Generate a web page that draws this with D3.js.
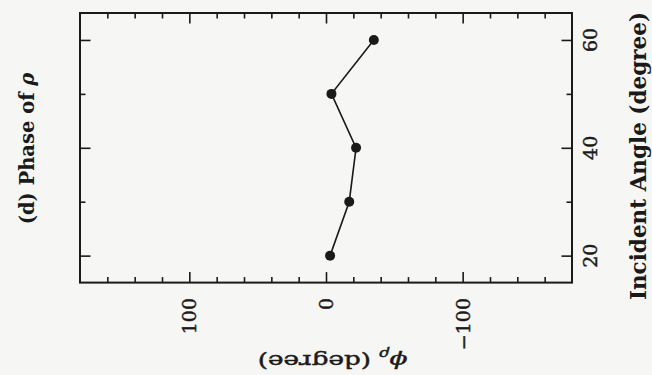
<!DOCTYPE html>
<html>
<head>
<meta charset="utf-8">
<script src="https://cdn.jsdelivr.net/npm/d3@7"></script>
<style>
  html, body { margin: 0; padding: 0; background: #f6f6f5; }
  svg { display: block; }
  text { font-family: "DejaVu Serif", serif; fill: #1a1a1a; }
  text.heavy { stroke: #1a1a1a; stroke-width: 0.45px; }
</style>
</head>
<body>
<svg id="chart" width="652" height="375"></svg>
<script>
// ---- data ----
const angles = [20, 30, 40, 50, 60];          // incident angle (degree)
const phase = [-3, -17, -22, -4, -35];         // phase of rho (degree)
const phaseMajorTicks = [100, 0, -100];
const phaseTickLabels = ["100", "0", "\u2212100"];
const phaseMinorTicks = [160, 140, 120, 80, 60, 40, 20, -20, -40, -60, -80, -120, -140, -160];
const angleMajorTicks = [20, 40, 60];
const angleTickLabels = ["20", "40", "60"];
const angleMinorTicks = [30, 50];
const phaseDomain = [180, -180];
const angleDomain = [15, 65];

const svg = d3.select("#chart");
const ink = "#1a1a1a";

const x = d3.scaleLinear().domain(phaseDomain).range([80, 572]);
const y = d3.scaleLinear().domain(angleDomain).range([282.6, 13]);

const L = x.range()[0], R = x.range()[1], T = y.range()[1], B = y.range()[0];
const majorLen = 10.5, minorLen = 5.5;

function styleAxis(g) {
  g.select(".domain").remove();
  g.selectAll(".tick line").attr("stroke", ink).attr("stroke-width", 1.6);
  g.selectAll(".tick text").remove();
}

// phase axis ticks: top and bottom, pointing inward
svg.append("g").attr("transform", `translate(0,${T})`)
  .call(d3.axisTop(x).tickValues(phaseMajorTicks).tickSize(-majorLen)).call(styleAxis);
svg.append("g").attr("transform", `translate(0,${T})`)
  .call(d3.axisTop(x).tickValues(phaseMinorTicks).tickSize(-minorLen)).call(styleAxis);
svg.append("g").attr("transform", `translate(0,${B})`)
  .call(d3.axisBottom(x).tickValues(phaseMajorTicks).tickSize(-majorLen)).call(styleAxis);
svg.append("g").attr("transform", `translate(0,${B})`)
  .call(d3.axisBottom(x).tickValues(phaseMinorTicks).tickSize(-minorLen)).call(styleAxis);

// angle axis ticks: left and right, pointing inward
svg.append("g").attr("transform", `translate(${L},0)`)
  .call(d3.axisLeft(y).tickValues(angleMajorTicks).tickSize(-majorLen)).call(styleAxis);
svg.append("g").attr("transform", `translate(${L},0)`)
  .call(d3.axisLeft(y).tickValues(angleMinorTicks).tickSize(-minorLen)).call(styleAxis);
svg.append("g").attr("transform", `translate(${R},0)`)
  .call(d3.axisRight(y).tickValues(angleMajorTicks).tickSize(-majorLen)).call(styleAxis);
svg.append("g").attr("transform", `translate(${R},0)`)
  .call(d3.axisRight(y).tickValues(angleMinorTicks).tickSize(-minorLen)).call(styleAxis);

// frame
svg.append("rect")
  .attr("x", L).attr("y", T).attr("width", R - L).attr("height", B - T)
  .attr("fill", "none").attr("stroke", ink).attr("stroke-width", 2);

// phase tick labels (rotated, reading bottom to top)
svg.append("g").selectAll("text").data(phaseMajorTicks).join("text")
  .attr("class", "heavy")
  .attr("transform", d => `translate(${x(d)},298) rotate(-90)`)
  .attr("text-anchor", "end").attr("dy", "0.36em")
  .attr("font-size", 19)
  .text((d, i) => phaseTickLabels[i]);

// angle tick labels on the right
svg.append("g").selectAll("text").data(angleMajorTicks).join("text")
  .attr("class", "heavy")
  .attr("transform", d => `translate(597,${y(d)}) rotate(-90)`)
  .attr("text-anchor", "middle")
  .attr("font-size", 19)
  .text((d, i) => angleTickLabels[i]);

// data line and markers
const pts = angles.map((a, i) => [a, phase[i]]);
svg.append("path")
  .datum(pts)
  .attr("fill", "none").attr("stroke", ink).attr("stroke-width", 1.6)
  .attr("d", d3.line().x(d => x(d[1])).y(d => y(d[0])));
svg.append("g").selectAll("circle").data(pts).join("circle")
  .attr("cx", d => x(d[1])).attr("cy", d => y(d[0])).attr("r", 5)
  .attr("fill", ink);

// left title
const t1 = svg.append("text")
  .attr("transform", `translate(33.5,148.5) rotate(-90)`)
  .attr("text-anchor", "middle").attr("font-size", 19.5).attr("font-weight", "bold");
t1.append("tspan").text("(d) Phase of ");
t1.append("tspan").attr("font-style", "italic").text("\u03C1");

// right axis title
svg.append("text")
  .attr("transform", `translate(645.5,156) rotate(-90)`)
  .attr("text-anchor", "middle").attr("font-size", 21.5).attr("font-weight", "bold")
  .text("Incident Angle (degree)");

// bottom axis title (upside down)
const t3 = svg.append("text")
  .attr("class", "heavy")
  .attr("transform", `translate(332.5,354.5) rotate(180) scale(1.42,1)`)
  .attr("text-anchor", "middle").attr("font-size", 18.5);
t3.append("tspan").attr("font-style", "italic").text("\u03D5");
t3.append("tspan").attr("font-style", "italic").attr("font-size", 12).attr("dy", 4).text("\u03C1");
t3.append("tspan").attr("dy", -4).text(" (degree)");
</script>
</body>
</html>
